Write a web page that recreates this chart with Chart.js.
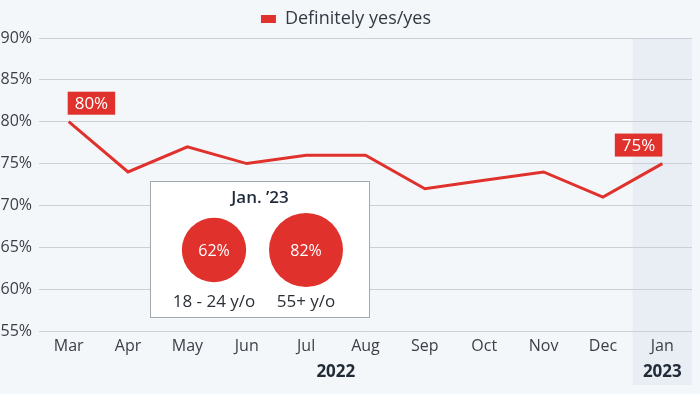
<!DOCTYPE html>
<html>
<head>
<meta charset="utf-8">
<script src="https://cdn.jsdelivr.net/npm/chart.js@4.4.1/dist/chart.umd.min.js"></script>
<style>
  body { margin: 0; background: #f4f7fa; }
  canvas { display: block; }
</style>
</head>
<body>
<canvas id="grafico" width="700" height="394"></canvas>
<script>
const months = ['Mar', 'Apr', 'May', 'Jun', 'Jul', 'Aug', 'Sep', 'Oct', 'Nov', 'Dec', 'Jan'];
const yesValues = [80, 74, 77, 75, 76, 76, 72, 73, 74, 71, 75];
const seriesName = 'Definitely yes/yes';
const yearLabels = ['2022', '2023'];
const yearFirst = [0, 10];
const yearLast = [9, 10];
const labelledPoints = [0, 10];

const insetTitle = 'Jan. \u201923';
const insetGroups = ['18 - 24 y/o', '55+ y/o'];
const insetValues = [62, 82];

const RED = '#e0312c';
const FONT = "'Open Sans', sans-serif";
const ctx = document.getElementById('grafico');

// fondo + banda de 2023
const fondo = {
  id: 'fondo',
  beforeDraw(chart) {
    const c = chart.ctx;
    const x = chart.scales.x;
    c.save();
    c.fillStyle = '#f4f7fa';
    c.fillRect(0, 0, chart.width, chart.height);
    const step = x.getPixelForValue(1) - x.getPixelForValue(0);
    const left = x.getPixelForValue(yearFirst[1]) - step / 2;
    c.fillStyle = '#e9edf4';
    c.fillRect(left, chart.chartArea.top, chart.chartArea.right - left, chart.height - chart.chartArea.top - 9);
    c.restore();
  }
};

// etiquetas de año, cajas de valores y recuadro
const extras = {
  id: 'extras',
  afterDraw(chart) {
    const c = chart.ctx;
    const x = chart.scales.x;
    c.save();

    c.fillStyle = '#222b38';
    c.font = 'bold 17px ' + FONT;
    c.textAlign = 'center';
    c.textBaseline = 'middle';
    yearLabels.forEach((lbl, i) => {
      const cx = (x.getPixelForValue(yearFirst[i]) + x.getPixelForValue(yearLast[i])) / 2;
      c.fillText(lbl, cx, 372);
    });

    const meta = chart.getDatasetMeta(0);
    c.font = '500 17px ' + FONT;
    labelledPoints.forEach((idx, k) => {
      const p = meta.data[idx];
      const txt = yesValues[idx] + '%';
      const w = c.measureText(txt).width + 14;
      const h = 23;
      const bx = k === 0 ? p.x - 1 : p.x - w;
      const by = p.y - 7 - h;
      c.fillStyle = RED;
      c.fillRect(bx, by, w, h);
      c.fillStyle = '#ffffff';
      c.fillText(txt, bx + w / 2, by + h / 2 + 1);
    });

    // recuadro Jan. '23
    const ix = 150.5, iy = 181.5, iw = 219, ih = 136;
    c.fillStyle = '#ffffff';
    c.fillRect(ix, iy, iw, ih);
    c.strokeStyle = '#a3a8ae';
    c.lineWidth = 1;
    c.strokeRect(ix, iy, iw, ih);

    c.fillStyle = '#1f2a3a';
    c.font = '600 17px ' + FONT;
    c.fillText(insetTitle, ix + iw / 2, 198);

    const centers = [214, 306];
    const maxV = Math.max(...insetValues);
    insetValues.forEach((v, i) => {
      const r = 37 * Math.sqrt(v / maxV);
      c.beginPath();
      c.arc(centers[i], 250, r, 0, Math.PI * 2);
      c.fillStyle = RED;
      c.fill();
      c.fillStyle = '#ffffff';
      c.font = '500 16px ' + FONT;
      c.fillText(v + '%', centers[i], 251);
      c.fillStyle = '#2b2f36';
      c.font = '17px ' + FONT;
      c.fillText(insetGroups[i], centers[i], 302);
    });

    c.restore();
  }
};

new Chart(ctx, {
  type: 'line',
  data: {
    labels: months,
    datasets: [{
      label: seriesName,
      data: yesValues,
      borderColor: RED,
      backgroundColor: RED,
      borderWidth: 3,
      pointRadius: 0,
      tension: 0,
      fill: false
    }]
  },
  options: {
    responsive: false,
    animation: false,
    layout: { padding: { top: 2, right: 8, bottom: 0, left: 0 } },
    plugins: {
      legend: {
        labels: {
          boxWidth: 15,
          boxHeight: 8,
          padding: 8,
          color: '#333a44',
          font: { family: FONT, size: 18 },
          generateLabels: (chart) => chart.data.datasets.map((ds, i) => ({
            text: ds.label,
            fillStyle: ds.borderColor,
            strokeStyle: ds.borderColor,
            lineWidth: 0,
            fontColor: '#333a44',
            datasetIndex: i
          }))
        }
      },
      tooltip: { enabled: false }
    },
    scales: {
      x: {
        offset: true,
        grid: { display: false, drawTicks: false },
        border: { display: false },
        ticks: { color: '#3a3f47', padding: 6, font: { family: FONT, size: 16 } },
        afterFit: (s) => { s.height = 63; }
      },
      y: {
        min: 55,
        max: 90,
        grid: { color: '#cbd0d6', drawTicks: false },
        border: { display: false },
        ticks: {
          stepSize: 5,
          padding: 7,
          color: '#3a3f47',
          font: { family: FONT, size: 16 },
          callback: (v) => v + '%'
        },
        afterFit: (s) => { s.width = 39; }
      }
    }
  },
  plugins: [fondo, extras]
});
</script>
</body>
</html>
